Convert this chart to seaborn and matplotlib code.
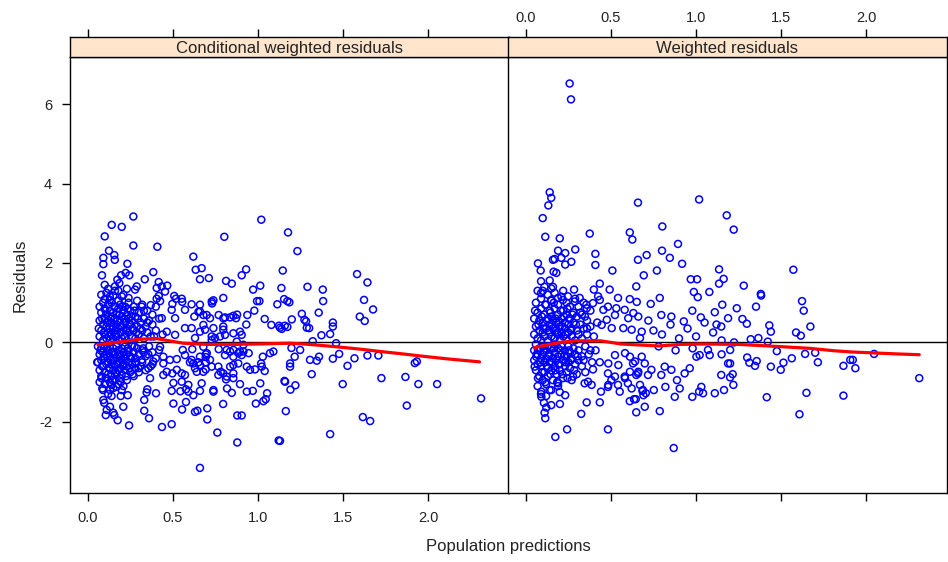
import matplotlib
matplotlib.use("Agg")
import matplotlib.pyplot as plt
import numpy as np
import pandas as pd
import seaborn as sns

# ---------------- data ----------------
panel_titles = ["Conditional weighted residuals", "Weighted residuals"]
x_ticks = [0.0, 0.5, 1.0, 1.5, 2.0]
x_tick_labels = ["0.0", "0.5", "1.0", "1.5", "2.0"]
y_ticks = [-2, 0, 2, 4, 6]
y_tick_labels = ["-2", "0", "2", "4", "6"]
x_label = "Population predictions"
y_label = "Residuals"

# Conditional weighted residuals: (population prediction, residual)
cwres_sparse = [
    (0.268, 3.17), (0.141, 2.96), (0.200, 2.91), (0.100, 2.67), (0.268, 2.44), (0.409, 2.41),
    (0.125, 2.31), (0.156, 2.20), (0.092, 2.13), (0.159, 2.08), (0.092, 1.97), (0.233, 1.98),
    (0.084, 1.69), (0.196, 1.69), (0.223, 1.75), (0.244, 1.69), (0.335, 1.59), (0.385, 1.77),
    (0.174, 1.58), (0.186, 1.49), (0.160, 1.41), (0.288, 1.41), (0.278, 1.33), (0.417, 1.52),
    (0.467, 1.43), (0.435, 1.41), (0.620, 2.16), (0.634, 1.83), (0.669, 1.87), (0.659, 1.59),
    (0.711, 1.62), (0.802, 2.66), (1.019, 3.09), (1.176, 2.77), (0.812, 1.55), (0.846, 1.48),
    (0.904, 1.69), (0.930, 1.84), (0.971, 1.33), (1.013, 1.43), (1.145, 1.81), (1.137, 1.37),
    (0.796, 1.12), (1.008, 1.04), (0.994, 1.04), (1.113, 0.96), (1.153, 1.09),
    (0.10, 1.09), (0.13, 1.07), (0.15, 1.18), (0.20, 1.16), (0.24, 1.12), (0.317, 0.90),
    (0.37, 0.94), (0.417, 1.17), (0.405, 1.10), (0.425, 1.04), (0.508, 1.17), (0.518, 1.10),
    (0.552, 1.10), (0.555, 1.02), (0.497, 0.97), (0.61, 0.96), (0.65, 0.77), (0.626, 0.65),
    (0.73, 0.98), (0.738, 1.06), (0.769, 0.69), (0.806, 0.63), (0.855, 0.67), (0.877, 0.70),
    (0.937, 0.69), (0.978, 0.80), (1.039, 0.59), (1.078, 0.44), (1.123, 0.42), (0.931, 0.45),
    (0.796, 0.40),
    (1.231, 2.30), (1.290, 1.40), (1.380, 1.33), (1.382, 1.04), (1.172, 1.04), (1.581, 1.72),
    (1.642, 1.51), (1.622, 1.07), (1.675, 0.83), (1.597, 0.65), (1.626, 0.54), (1.257, 0.72),
    (1.272, 0.57), (1.198, 0.58), (1.30, 0.36), (1.356, 0.75), (1.439, 0.50), (1.439, 0.40),
    (1.423, 0.21), (1.372, 0.18), (1.157, 0.42), (1.139, 0.34), (1.321, 0.03), (1.458, -0.02),
    (1.196, -0.14), (1.215, -0.36), (1.188, -0.61), (1.305, -0.44), (1.345, -0.46), (1.358, -0.36),
    (1.439, -0.41), (1.476, -0.29), (1.525, -0.59), (1.566, -0.40), (1.642, -0.33), (1.706, -0.33),
    (1.920, -0.52), (1.932, -0.48), (1.315, -0.80), (1.155, -0.97), (1.219, -1.08), (1.190, -1.19),
    (1.497, -1.05), (1.724, -0.90), (1.865, -0.87), (1.941, -1.05), (2.051, -1.05), (2.309, -1.41),
    (1.873, -1.59), (1.163, -1.73), (1.615, -1.88), (1.658, -1.98), (1.423, -2.31), (1.129, -2.48),
    (0.056, -0.50), (0.082, -0.90), (0.086, -1.16), (0.092, -1.45), (0.097, -1.52), (0.112, -1.70),
    (0.106, -1.83), (0.150, -1.77), (0.156, -1.83), (0.131, -1.62), (0.176, -1.96), (0.243, -2.09),
    (0.209, -1.62), (0.235, -1.33), (0.194, -1.35), (0.131, -1.20), (0.141, -1.07), (0.170, -1.12),
    (0.366, -0.90), (0.35, -1.18), (0.346, -1.26), (0.401, -1.28), (0.332, -1.45), (0.332, -1.72),
    (0.36, -1.91), (0.436, -2.13), (0.493, -2.06), (0.444, -0.82), (0.497, -0.78), (0.503, -1.02),
    (0.493, -1.22), (0.503, -1.54), (0.554, -1.69), (0.577, -1.50), (0.544, -1.23), (0.577, -1.18),
    (0.591, -1.07), (0.62, -1.33), (0.63, -1.75), (0.644, -1.72), (0.702, -1.66), (0.702, -1.94),
    (0.659, -3.16), (0.761, -2.27), (0.795, -1.55), (0.878, -1.84), (0.904, -1.84), (0.878, -2.52),
    (0.659, -1.22), (0.738, -1.20), (0.738, -1.24), (0.818, -1.16), (0.846, -1.27), (0.894, -1.05),
    (0.934, -1.24), (0.969, -1.22), (0.987, -1.54), (1.031, -1.48), (1.045, -1.43), (1.013, -1.03),
    (1.053, -1.28), (1.121, -2.47),
    (0.558, -0.19), (0.614, -0.17), (0.693, -0.30), (0.693, -0.37), (0.62, -0.53), (0.65, -0.50),
    (0.60, -0.50), (0.693, -0.50), (0.64, -0.74), (0.693, -0.68), (0.728, -0.61), (0.781, -0.74),
    (0.796, -0.78), (0.812, -0.93), (0.855, -0.78), (0.884, -0.53), (0.904, -0.32), (0.945, -0.27),
    (0.982, -0.68), (1.018, -0.53), (1.028, -0.36), (1.039, -0.72), (1.09, -0.23), (1.188, -0.53),
    (0.769, -0.17), (0.816, -0.19), (0.855, -0.19), (0.894, -0.23), (0.914, -0.06), (0.444, -0.53),
    (0.483, -0.44), (0.523, -0.42), (0.552, -0.78), (0.425, -0.11), (0.419, -0.19), (0.326, -0.15),
    (0.356, -0.30), (0.317, -0.44), (0.278, -0.53), (0.298, -0.65), (0.356, -0.65), (0.385, -0.48),
    (0.728, 1.03), (1.184, 1.01), (0.659, 0.78), (0.699, 0.69), (0.796, 0.61), (0.836, 0.63),
    (0.871, 0.61), (1.129, 0.37), (1.172, 0.39), (1.282, 0.53), (1.286, 0.37),
    (0.679, 0.44), (0.689, 0.32), (0.738, 0.36), (0.796, 0.32), (0.806, 0.19), (0.855, 0.23),
    (0.894, 0.27), (0.904, 0.19), (0.728, 0.06), (0.747, 0.11), (0.777, 0.15), (0.875, 0.02),
    (0.679, -0.11), (0.699, -0.27), (0.806, -0.32), (0.836, -0.23), (0.855, -0.36), (0.884, -0.27),
    (0.914, -0.23), (1.07, -0.27), (1.247, -0.19), (0.659, -0.57), (0.767, -0.61), (0.836, -0.61),
    (0.855, -0.57), (0.934, -0.61), (0.953, -0.69), (1.022, -0.61), (0.767, -0.82), (0.816, -0.86),
    (0.855, -0.90), (0.669, -1.03), (1.159, -0.99),
    (0.405, 1.37), (0.454, 1.28), (0.659, 0.95), (0.493, 0.82), (0.571, 0.82), (0.679, 0.69),
    (0.718, 0.61), (0.513, 0.61), (0.435, 0.61), (0.571, 0.36), (0.61, 0.36), (0.659, 0.27),
    (0.728, 0.15), (0.464, 0.27), (0.513, 0.19), (0.63, 0.11),
    (0.444, -0.36), (0.571, -0.32), (0.61, -0.44), (0.659, -0.36), (0.718, -0.44), (0.464, -0.74),
    (0.523, -0.69), (0.571, -0.82), (0.63, -0.65), (0.679, -0.74), (0.552, -0.99), (0.591, -1.24),
]

cwres_dense = [
    (0.07, 0.15), (0.07, 0.55), (0.07, 0.90), (0.08, 0.30), (0.08, 0.75), (0.08, 1.20),
    (0.09, 0.05), (0.09, 0.45), (0.09, 1.00), (0.10, 0.20), (0.10, 0.60), (0.10, 0.85),
    (0.11, 0.10), (0.11, 0.40), (0.11, 0.70), (0.11, 1.25), (0.12, 0.25), (0.12, 0.55),
    (0.12, 0.95), (0.13, 0.05), (0.13, 0.35), (0.13, 0.80), (0.13, 1.15), (0.14, 0.20),
    (0.14, 0.50), (0.14, 0.65), (0.14, 1.00), (0.15, 0.10), (0.15, 0.40), (0.15, 0.75),
    (0.16, 0.30), (0.16, 0.60), (0.16, 0.90), (0.16, 1.30), (0.17, 0.15), (0.17, 0.45),
    (0.17, 0.70), (0.18, 0.05), (0.18, 0.35), (0.18, 0.85), (0.18, 1.05), (0.19, 0.25),
    (0.19, 0.55), (0.19, 0.95), (0.20, 0.10), (0.20, 0.40), (0.20, 0.65), (0.21, 0.30),
    (0.21, 0.80), (0.21, 1.20), (0.22, 0.15), (0.22, 0.50), (0.22, 0.90), (0.23, 0.05),
    (0.23, 0.35), (0.23, 0.70), (0.24, 0.25), (0.24, 0.60), (0.24, 1.00), (0.25, 0.45),
    (0.25, 0.80), (0.26, 0.15), (0.26, 0.55), (0.27, 0.30), (0.27, 0.90), (0.28, 0.10),
    (0.28, 0.65), (0.29, 0.40), (0.29, 1.05), (0.30, 0.20), (0.30, 0.75), (0.31, 0.50),
    (0.32, 0.30), (0.32, 0.95), (0.33, 0.10), (0.33, 0.60), (0.34, 0.40), (0.35, 0.25),
    (0.35, 0.80), (0.36, 0.55), (0.37, 0.15), (0.38, 0.45), (0.38, 0.70), (0.40, 0.30),
    (0.40, 0.90), (0.42, 0.60), (0.44, 0.20),
    (0.06, -0.10), (0.06, -0.50), (0.07, -0.30), (0.07, -0.70), (0.07, -1.00), (0.08, -0.15),
    (0.08, -0.45), (0.08, -0.85), (0.09, -0.25), (0.09, -0.60), (0.09, -1.20), (0.10, -0.10),
    (0.10, -0.40), (0.10, -0.75), (0.10, -1.05), (0.11, -0.30), (0.11, -0.55), (0.11, -0.90),
    (0.12, -0.20), (0.12, -0.50), (0.12, -0.80), (0.12, -1.30), (0.13, -0.10), (0.13, -0.35),
    (0.13, -0.65), (0.13, -1.00), (0.14, -0.25), (0.14, -0.55), (0.14, -0.85), (0.15, -0.15),
    (0.15, -0.45), (0.15, -0.70), (0.15, -1.15), (0.16, -0.30), (0.16, -0.60), (0.16, -0.95),
    (0.17, -0.10), (0.17, -0.40), (0.17, -0.80), (0.18, -0.20), (0.18, -0.50), (0.18, -0.70),
    (0.18, -1.05), (0.19, -0.35), (0.19, -0.65), (0.19, -0.90), (0.20, -0.15), (0.20, -0.45),
    (0.20, -0.80), (0.21, -0.25), (0.21, -0.55), (0.21, -1.10), (0.22, -0.10), (0.22, -0.40),
    (0.22, -0.70), (0.23, -0.30), (0.23, -0.60), (0.23, -0.95), (0.24, -0.20), (0.24, -0.50),
    (0.25, -0.35), (0.25, -0.75), (0.26, -0.10), (0.26, -0.55), (0.27, -0.25), (0.27, -0.85),
    (0.28, -0.40), (0.28, -0.65), (0.29, -0.15), (0.30, -0.30), (0.30, -0.75), (0.32, -0.20),
    (0.32, -0.50), (0.34, -0.35), (0.34, -0.70), (0.36, -0.10), (0.38, -0.25), (0.38, -0.55),
    (0.40, -0.40),
    (0.065, 0.35), (0.075, -0.20), (0.085, 0.60), (0.085, -0.60), (0.095, 0.25), (0.095, -0.35),
    (0.105, 0.80), (0.105, -0.90), (0.115, 0.50), (0.115, -0.15), (0.125, 0.15), (0.125, -0.65),
    (0.135, 0.60), (0.135, -0.45), (0.145, 0.35), (0.145, -0.95), (0.155, 0.90), (0.155, -0.30),
    (0.165, 0.20), (0.165, -0.75), (0.175, 0.55), (0.175, -0.55), (0.185, 0.70), (0.185, -0.30),
    (0.195, 0.40), (0.195, -1.00), (0.205, 0.90), (0.205, -0.60), (0.215, 0.60), (0.215, -0.35),
    (0.225, 0.30), (0.225, -0.85), (0.235, 0.85), (0.235, -0.15), (0.245, 0.45), (0.245, -0.65),
    (0.255, 0.65), (0.255, -0.40), (0.265, 0.35), (0.265, -0.80), (0.275, 0.80), (0.275, -0.10),
    (0.285, 0.25), (0.285, -0.50), (0.295, 0.60), (0.31, 0.35), (0.31, -0.60), (0.33, 0.80),
    (0.33, -0.25), (0.35, 0.50), (0.37, -0.60), (0.39, 0.15), (0.12, 1.35), (0.18, 1.30),
    (0.14, -1.35), (0.20, -1.20), (0.10, 1.45), (0.23, 1.35),
]

# Weighted residuals: (population prediction, residual)
wres_sparse = [
    (0.258, 6.52), (0.266, 6.12), (0.141, 3.78), (0.150, 3.64), (0.133, 3.45), (0.10, 3.13),
    (0.115, 2.66), (0.20, 2.62), (0.376, 2.74), (0.659, 3.52), (0.611, 2.77), (0.626, 2.59),
    (0.802, 2.92), (1.018, 3.60), (1.18, 3.20), (1.221, 2.84), (0.894, 2.48), (0.291, 2.34),
    (0.19, 2.31), (0.16, 2.08), (0.17, 2.10), (0.209, 2.13), (0.232, 2.25), (0.268, 2.03),
    (0.232, 1.96), (0.072, 1.99), (0.088, 1.81), (0.409, 2.23), (0.409, 1.95), (0.509, 1.81),
    (0.659, 2.08), (0.71, 2.20), (0.80, 2.31), (0.846, 2.13), (0.918, 1.98), (0.77, 1.81),
    (0.693, 1.69), (1.135, 1.84), (1.162, 1.60), (1.135, 1.48), (0.969, 1.59), (1.006, 1.59),
    (0.987, 1.27), (1.01, 1.14), (1.078, 1.27), (0.649, 1.41), (0.787, 1.12), (0.734, 0.97),
    (0.978, 0.80), (1.154, 0.95), (1.028, 0.63), (1.11, 0.76), (1.188, 0.61), (1.239, 0.86),
    (0.09, 1.54), (0.141, 1.56), (0.09, 1.24), (0.15, 1.36), (0.18, 1.75), (0.164, 1.78),
    (0.284, 1.33), (0.40, 1.33), (0.435, 1.48), (0.493, 1.33), (0.542, 1.12), (0.611, 1.09),
    (0.652, 1.02), (0.425, 1.16),
    (0.15, 1.07), (0.19, 1.12), (0.219, 1.07), (0.248, 1.16), (0.288, 1.03), (0.317, 1.12),
    (0.356, 0.95), (0.395, 0.99), (0.435, 1.07), (0.483, 0.90), (0.532, 0.86), (0.581, 0.82),
    (0.796, 0.69), (0.855, 0.65), (0.928, 0.53), (1.148, 0.40),
    (1.571, 1.83), (1.28, 1.43), (1.38, 1.22), (1.382, 1.18), (1.352, 0.90), (1.622, 1.04),
    (1.632, 0.80), (1.272, 0.59), (1.298, 0.47), (1.43, 0.43), (1.439, 0.27), (1.671, 0.40),
    (1.587, 0.25), (1.615, 0.17), (1.321, 0.08), (1.366, 0.11), (1.421, 0.02), (1.223, 0.00),
    (1.474, -0.22), (1.64, -0.29), (1.699, -0.26), (2.045, -0.29), (1.30, -0.38), (1.313, -0.51),
    (1.346, -0.59), (1.356, -0.47), (1.439, -0.61), (1.497, -0.69), (1.513, -0.51), (1.562, -0.40),
    (1.715, -0.50), (1.865, -0.59), (1.905, -0.44), (1.92, -0.44), (1.935, -0.65), (1.20, -0.19),
    (1.20, -0.53), (1.215, -0.80), (1.20, -0.88), (1.219, -1.07), (2.31, -0.90), (1.415, -1.38),
    (1.648, -1.27), (1.865, -1.34), (1.607, -1.81),
    (0.174, -2.38), (0.243, -2.19), (0.483, -2.19), (0.869, -2.66), (0.115, -1.91), (0.111, -1.77),
    (0.121, -1.64), (0.201, -1.55), (0.150, -1.58), (0.107, -1.52), (0.232, -1.33), (0.326, -1.80),
    (0.358, -1.51), (0.435, -1.51), (0.649, -1.76), (0.699, -1.62), (0.787, -1.73), (0.611, -1.48),
    (0.636, -1.43), (0.646, -1.43), (0.705, -1.28), (0.685, -1.22), (0.752, -1.20), (0.82, -1.12),
    (0.875, -1.37), (0.904, -1.16), (0.888, -0.95), (0.978, -1.37), (1.018, -1.24), (1.031, -1.12),
    (1.041, -1.28), (1.11, -1.28), (1.164, -1.20), (0.442, -1.24), (0.483, -1.12), (0.552, -1.24),
    (0.60, -1.03), (0.649, -0.82), (0.688, -1.20), (0.718, -0.82), (0.072, -0.90), (0.092, -1.24),
    (0.092, -1.37), (0.15, -1.20), (0.19, -1.03), (0.278, -0.86), (0.346, -1.03), (0.366, -0.99),
    (0.395, -0.68), (0.053, -0.61), (0.062, -0.36), (0.072, -0.19), (0.435, -0.50), (0.483, -0.78),
    (0.503, -0.95), (0.542, -1.07), (0.581, -0.86), (0.63, -0.53), (0.659, -0.78), (0.699, -0.53),
    (0.738, -0.69), (0.796, -0.82), (0.816, -0.61), (0.855, -0.69), (0.933, -0.78), (0.963, -0.65),
    (1.002, -0.36), (1.021, -0.32), (1.07, -0.19), (1.08, -0.32), (1.148, -0.82), (1.188, -0.53),
    (0.632, 0.74), (0.602, 0.61), (0.661, 0.65), (0.524, 0.69), (0.476, 0.57), (0.446, 0.44),
    (0.505, 0.36), (0.573, 0.36), (0.622, 0.32), (0.681, 0.27), (0.671, 0.11), (0.456, 0.82),
    (0.358, 0.86), (0.348, 0.65),
    (0.485, -0.53), (0.524, -0.32), (0.544, -0.57), (0.583, -0.27), (0.612, -0.36), (0.642, -0.48),
    (0.681, -0.36), (0.661, -0.74), (0.612, -0.74), (0.583, -0.90), (0.524, -0.86), (0.485, -1.07),
    (0.622, -1.16), (0.671, -1.07), (0.691, -1.33), (0.387, -1.07),
    (0.75, 0.30), (0.80, 0.20), (0.85, 0.45), (0.90, 0.10), (0.95, 0.35), (1.00, 0.15),
    (1.05, 0.50), (1.10, 0.25), (1.15, 0.05), (0.78, -0.10), (0.88, -0.20), (0.98, -0.15),
    (1.15, -0.30), (0.72, 0.55), (1.12, 0.45),
]

wres_dense = [
    (0.05, 0.20), (0.05, 0.60), (0.06, 0.40), (0.06, 1.00), (0.07, 0.10), (0.07, 0.75),
    (0.07, 1.30), (0.08, 0.30), (0.08, 0.55), (0.09, 0.05), (0.09, 0.85), (0.09, 1.10),
    (0.10, 0.25), (0.10, 0.50), (0.11, 0.15), (0.11, 0.70), (0.11, 1.40), (0.12, 0.35),
    (0.12, 0.95), (0.13, 0.05), (0.13, 0.60), (0.13, 1.20), (0.14, 0.25), (0.14, 0.45),
    (0.14, 0.80), (0.15, 0.15), (0.15, 0.65), (0.15, 1.05), (0.16, 0.35), (0.16, 0.55),
    (0.17, 0.10), (0.17, 0.85), (0.17, 1.25), (0.18, 0.30), (0.18, 0.50), (0.19, 0.20),
    (0.19, 0.70), (0.19, 0.95), (0.20, 0.05), (0.20, 0.40), (0.21, 0.25), (0.21, 0.60),
    (0.21, 1.15), (0.22, 0.15), (0.22, 0.80), (0.23, 0.35), (0.23, 0.50), (0.24, 0.10),
    (0.24, 0.70), (0.24, 1.00), (0.25, 0.25), (0.25, 0.45), (0.26, 0.60), (0.26, 0.90),
    (0.27, 0.15), (0.27, 0.35), (0.28, 0.50), (0.28, 0.75), (0.29, 0.05), (0.29, 1.10),
    (0.30, 0.30), (0.30, 0.65), (0.31, 0.20), (0.31, 0.90), (0.32, 0.45), (0.33, 0.10),
    (0.33, 0.70), (0.34, 0.35), (0.34, 1.00), (0.36, 0.20), (0.36, 0.55), (0.38, 0.40),
    (0.38, 0.80), (0.40, 0.15), (0.42, 0.50),
    (0.05, -0.20), (0.05, -0.45), (0.06, -0.05), (0.06, -0.70), (0.07, -0.30), (0.07, -0.55),
    (0.07, -1.10), (0.08, -0.15), (0.08, -0.85), (0.09, -0.40), (0.09, -0.60), (0.09, -1.30),
    (0.10, -0.10), (0.10, -0.30), (0.10, -0.95), (0.11, -0.50), (0.11, -0.75), (0.12, -0.20),
    (0.12, -0.40), (0.12, -1.05), (0.13, -0.10), (0.13, -0.65), (0.13, -0.85), (0.14, -0.30),
    (0.14, -0.50), (0.14, -1.20), (0.15, -0.15), (0.15, -0.70), (0.16, -0.40), (0.16, -0.95),
    (0.17, -0.05), (0.17, -0.25), (0.17, -0.60), (0.18, -0.45), (0.18, -0.80), (0.19, -0.15),
    (0.19, -0.35), (0.19, -1.10), (0.20, -0.55), (0.20, -0.70), (0.21, -0.10), (0.21, -0.30),
    (0.22, -0.45), (0.22, -0.90), (0.23, -0.20), (0.23, -0.60), (0.24, -0.35), (0.24, -0.75),
    (0.25, -0.10), (0.25, -0.50), (0.26, -0.25), (0.26, -0.65), (0.27, -0.40), (0.27, -0.95),
    (0.28, -0.15), (0.29, -0.30), (0.29, -0.55), (0.30, -0.80), (0.31, -0.20), (0.31, -0.45),
    (0.33, -0.35), (0.33, -0.60), (0.35, -0.10), (0.35, -0.75), (0.37, -0.30), (0.39, -0.50),
    (0.41, -0.20),
    (0.055, 0.80), (0.065, -0.30), (0.075, 0.45), (0.085, -0.50), (0.095, 0.65), (0.095, -0.75),
    (0.105, 0.35), (0.105, -0.20), (0.115, 0.95), (0.115, -1.00), (0.125, 0.55), (0.125, -0.60),
    (0.135, 0.30), (0.135, -0.35), (0.145, 0.75), (0.145, -0.80), (0.155, 0.45), (0.155, -0.50),
    (0.165, 1.00), (0.165, -0.15), (0.175, 0.60), (0.175, -0.70), (0.185, 0.25), (0.185, -1.00),
    (0.195, 0.50), (0.195, -0.55), (0.205, 0.80), (0.205, -0.20), (0.215, 0.40), (0.215, -0.80),
    (0.225, 0.65), (0.225, -0.35), (0.235, 0.20), (0.235, -0.50), (0.245, 0.85), (0.245, -0.90),
    (0.255, 0.60), (0.255, -0.20), (0.265, 0.30), (0.265, -0.45), (0.275, 0.70), (0.285, -0.70),
    (0.295, 0.45), (0.305, -0.35), (0.32, 0.75), (0.34, -0.45), (0.36, 0.35), (0.38, -0.20),
    (0.10, 1.30), (0.16, 1.40), (0.22, 1.30), (0.12, -1.35), (0.20, -1.25),
]

# loess smooth
cwres_smooth_x = [0.06, 0.17, 0.31, 0.40, 0.48, 0.56, 0.70, 0.82, 1.00, 1.19, 1.30, 1.46, 1.60, 1.72, 1.85, 1.95, 2.10, 2.30]
cwres_smooth_y = [-0.06, 0.00, 0.08, 0.10, 0.04, -0.02, -0.05, -0.05, -0.04, -0.02, -0.05, -0.11, -0.17, -0.23, -0.29, -0.34, -0.41, -0.49]
wres_smooth_x = [0.05, 0.13, 0.20, 0.29, 0.44, 0.56, 0.78, 0.91, 1.03, 1.25, 1.51, 1.67, 1.81, 1.91, 2.18, 2.31]
wres_smooth_y = [-0.13, -0.06, 0.00, 0.04, 0.04, -0.04, -0.09, -0.05, -0.04, -0.05, -0.11, -0.15, -0.21, -0.24, -0.29, -0.31]

# ---------------- build tables ----------------
def to_df(pairs):
    return pd.DataFrame(pairs, columns=["pred", "res"])

points = [to_df(cwres_sparse + cwres_dense), to_df(wres_sparse + wres_dense)]
smooths = [pd.DataFrame({"pred": cwres_smooth_x, "res": cwres_smooth_y}),
           pd.DataFrame({"pred": wres_smooth_x, "res": wres_smooth_y})]

# ---------------- figure ----------------
sns.set_theme(style="white")
plt.rcParams["font.family"] = ["Liberation Sans", "DejaVu Sans"]
plt.rcParams["axes.linewidth"] = 1.0

W, H = 948, 562
fig = plt.figure(figsize=(W / 100, H / 100), dpi=100)

panel_left = [70.3, 508.3]
panel_w = 438.2
panel_top, panel_bot = 57.3, 493.3
strip_top = 37.3
xlim = (-0.102, 2.47)
ylim = (-3.80, 7.18)
txt_col = "#222222"
strip_col = "#FFE5CC"

for i in range(2):
    x0 = panel_left[i]
    ax = fig.add_axes([x0 / W, 1 - panel_bot / H, panel_w / W, (panel_bot - panel_top) / H])
    sax = fig.add_axes([x0 / W, 1 - panel_top / H, panel_w / W, (panel_top - strip_top) / H])

    ax.axhline(0, color="black", lw=1.0, zorder=1)
    sns.scatterplot(data=points[i], x="pred", y="res", ax=ax, color="#0000FF",
                    facecolor="none", edgecolor="#0000FF", s=25, linewidth=1.1,
                    marker="o", zorder=2, legend=False)
    sns.lineplot(data=smooths[i], x="pred", y="res", ax=ax, color="#FF0000", lw=2.3,
                 sort=False, estimator=None, zorder=3)

    ax.set_xlim(*xlim)
    ax.set_ylim(*ylim)
    ax.set_xlabel("")
    ax.set_ylabel("")
    ax.set_xticks(x_ticks)
    ax.set_yticks(y_ticks)
    ax.tick_params(direction="out", length=6, width=1, color="black",
                   labelsize=10.5, labelcolor=txt_col, pad=7)
    if i == 0:
        ax.set_xticklabels(x_tick_labels)
        ax.set_yticklabels(y_tick_labels)
        ax.tick_params(axis="x", bottom=True, labelbottom=True)
        ax.tick_params(axis="y", left=True, labelleft=True)
    else:
        ax.tick_params(axis="x", bottom=True, labelbottom=False)
        ax.tick_params(axis="y", left=False, labelleft=False, right=True, labelright=False)
    for sp in ax.spines.values():
        sp.set_color("black")
        sp.set_linewidth(1.0)

    # strip
    sax.set_facecolor(strip_col)
    sax.set_xlim(*xlim)
    sax.set_ylim(0, 1)
    sax.set_yticks([])
    sax.set_xticks(x_ticks)
    sax.xaxis.set_ticks_position("top")
    sax.tick_params(axis="x", direction="out", length=6, width=1, color="black",
                    labelsize=10.5, labelcolor=txt_col, pad=3,
                    top=True, bottom=False, labeltop=(i == 1), labelbottom=False)
    if i == 1:
        sax.set_xticklabels(x_tick_labels)
    for sp in sax.spines.values():
        sp.set_color("black")
        sp.set_linewidth(1.0)
    sax.text(0.5, 0.45, panel_titles[i], transform=sax.transAxes, ha="center", va="center",
             fontsize=12, color=txt_col)

fig.text(20 / W, 1 - 275 / H, y_label, rotation=90, ha="center", va="center",
         fontsize=12, color=txt_col)
fig.text(508 / W, 1 - 547 / H, x_label, ha="center", va="center",
         fontsize=12, color=txt_col)

fig.savefig("out.png", dpi=100, facecolor="white")
